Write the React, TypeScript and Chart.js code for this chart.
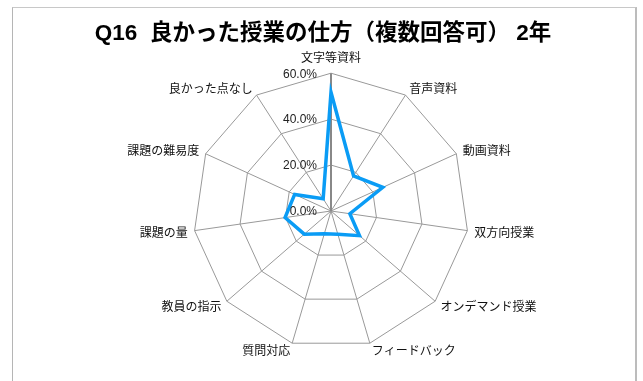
import React, { useEffect, useRef } from 'react';
import { Chart, registerables } from 'chart.js';

Chart.register(...registerables);

const titleText = 'Q16  良かった授業の仕方（複数回答可） 2年';
const categories = [
  '文字等資料',
  '音声資料',
  '動画資料',
  '双方向授業',
  'オンデマンド授業',
  'フィードバック',
  '質問対応',
  '教員の指示',
  '課題の量',
  '課題の難易度',
  '良かった点なし',
];
const values = [51.7, 18.2, 24.8, 8.3, 16.4, 10.6, 10.3, 15.4, 20.2, 17.4, 6.3];
const tickValues = [0, 20, 40, 60];

const titlePlugin = {
  id: 'customTitle',
  afterDraw(chart: any) {
    const ctx = chart.ctx;
    ctx.save();
    ctx.font = 'bold 22.5px "Liberation Sans", "Noto Sans CJK JP", sans-serif';
    ctx.fillStyle = '#000';
    ctx.textAlign = 'center';
    ctx.textBaseline = 'middle';
    ctx.fillText(titleText, 323, 34);
    ctx.restore();
  },
};

const tickLabelPlugin = {
  id: 'tickLabels',
  afterDatasetsDraw(chart: any) {
    const s = chart.scales.r;
    const ctx = chart.ctx;
    ctx.save();
    ctx.font = '12px "Liberation Sans", Arial, sans-serif';
    ctx.fillStyle = '#222';
    ctx.textAlign = 'right';
    ctx.textBaseline = 'middle';
    tickValues.forEach((v) => {
      const d = s.getDistanceFromCenterForValue(v);
      ctx.fillText(v.toFixed(1) + '%', s.xCenter - 14, s.yCenter - d + 1);
    });
    ctx.restore();
  },
};

export default function App() {
  const ref = useRef<HTMLCanvasElement | null>(null);
  useEffect(() => {
    if (!ref.current) return;
    const chart = new Chart(ref.current, {
      type: 'radar',
      data: {
        labels: categories,
        datasets: [
          {
            data: values,
            borderColor: '#0a9cf5',
            borderWidth: 3.5,
            backgroundColor: 'rgba(0,0,0,0)',
            fill: false,
            pointRadius: 0,
            pointHoverRadius: 0,
            tension: 0,
          },
        ],
      },
      options: {
        animation: false,
        responsive: true,
        maintainAspectRatio: false,
        layout: { padding: { top: 50, left: 20, right: 0, bottom: 22 } },
        plugins: {
          legend: { display: false },
          title: { display: false },
          tooltip: { enabled: false },
        },
        scales: {
          r: {
            min: 0,
            max: 60,
            ticks: { stepSize: 20, display: false },
            grid: { color: '#999', lineWidth: 1, circular: false },
            angleLines: {
              color: (c: any) => (c.index === 0 ? '#888' : '#999'),
              lineWidth: (c: any) => (c.index === 0 ? 2 : 1),
            },
            pointLabels: {
              font: { size: 12, family: '"Noto Sans CJK JP", sans-serif', lineHeight: 0.1 },
              color: '#111',
              padding: (c: any) => (c.index === 0 ? 15 : 7),
            },
          },
        },
      },
      plugins: [tickLabelPlugin, titlePlugin],
    });
    return () => chart.destroy();
  }, []);

  return (
    <div style={{ position: 'fixed', left: 0, top: 0, width: 643, height: 381, background: '#fff', overflow: 'hidden' }}>
      <div
        style={{
          position: 'absolute',
          left: 12,
          top: 7,
          width: 622,
          height: 420,
          borderLeft: '1px solid #b5b5b5',
          borderTop: '1px solid #c8c8c8',
          borderRight: '2px solid #bcbcbc',
        }}
      />
      <canvas ref={ref} style={{ position: 'absolute', left: 0, top: 0, width: 643, height: 381 }} />
    </div>
  );
}
